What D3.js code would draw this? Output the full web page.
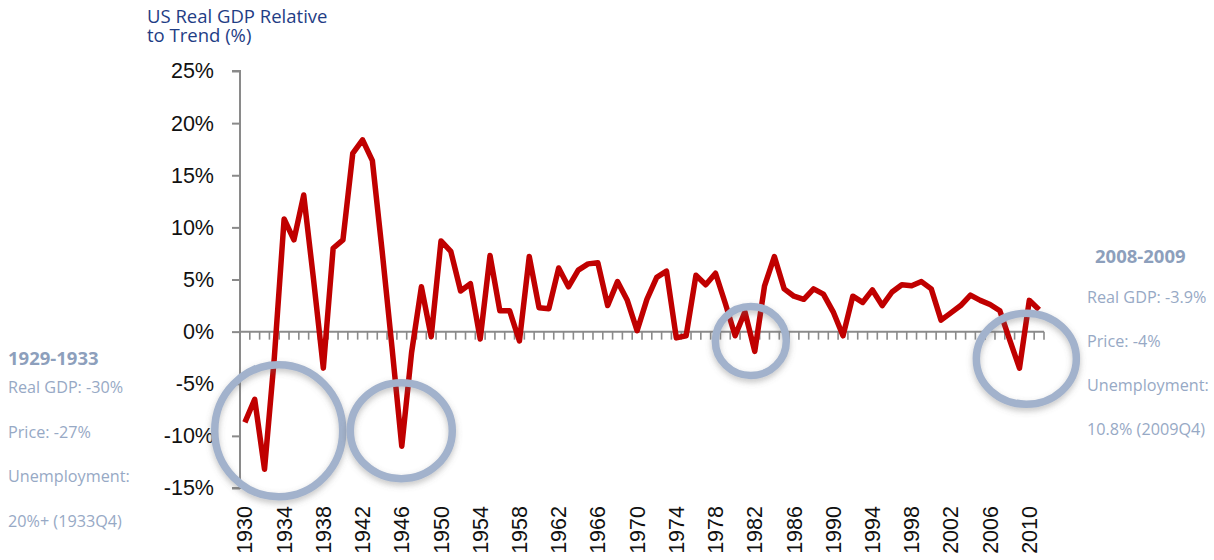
<!DOCTYPE html>
<html>
<head>
<meta charset="utf-8">
<script src="https://cdn.jsdelivr.net/npm/d3@7"></script>
<style>
  html, body { margin: 0; padding: 0; background: #fff; }
  svg { display: block; }
</style>
</head>
<body>
<svg id="chart" width="1214" height="560"></svg>
<script>
// ---- data ----
const years = d3.range(1930, 2012);
const gdpGap = [
  -8.7, -6.5, -13.2, -2.5, 10.8, 8.8, 13.1, 5.0, -3.5, 8.0,
  8.8, 17.1, 18.4, 16.4, 7.7, -1.5, -11.0, -2.0, 4.3, -0.5,
  8.7, 7.7, 3.9, 4.6, -0.7, 7.3, 2.0, 2.0, -0.9, 7.2,
  2.3, 2.2, 6.1, 4.3, 5.9, 6.5, 6.6, 2.5, 4.8, 3.0,
  0.1, 3.1, 5.2, 5.8, -0.6, -0.4, 5.4, 4.5, 5.6, 2.7,
  -0.4, 1.9, -1.9, 4.4, 7.2, 4.1, 3.4, 3.1, 4.1, 3.6,
  1.9, -0.4, 3.4, 2.8, 4.0, 2.5, 3.8, 4.5, 4.4, 4.8,
  4.1, 1.1, 1.8, 2.5, 3.5, 3.0, 2.6, 2.0, -0.8, -3.5,
  3.0, 2.1
];
const yTicks = [-15, -10, -5, 0, 5, 10, 15, 20, 25];
const xLabelYears = years.filter(y => (y - 1930) % 4 === 0);
const titleLines = ["US Real GDP Relative", "to Trend (%)"];
const leftNote = ["1929-1933", "Real GDP: -30%", "Price: -27%", "Unemployment:", "20%+ (1933Q4)"];
const rightNote = ["2008-2009", "Real GDP: -3.9%", "Price: -4%", "Unemployment:", "10.8% (2009Q4)"];
// highlight rings: centre in data units (year, %), radii in px
const rings = [
  { year: 1933.45, value: -9.5, rx: 64, ry: 66 },
  { year: 1945.95, value: -9.5, rx: 51, ry: 48 },
  { year: 1981.6, value: -0.9, rx: 35.5, ry: 34.5 },
  { year: 2009.7, value: -2.6, rx: 50, ry: 45.5 }
];

// ---- layout ----
const svg = d3.select("#chart");
const plotL = 240, plotR = 1044, plotT = 71, plotB = 488;

const x = d3.scaleBand().domain(years).range([plotL, plotR]).padding(0);
const bw = x.bandwidth();
const xc = yr => x(yr) + bw / 2;
const xCont = v => plotL + (v - years[0] + 0.5) * bw;
const y = d3.scaleLinear().domain([-15, 25]).range([plotB, plotT]);

const axisColor = "#8a8a8a";
const valueFont = "'Liberation Sans', Arial, sans-serif";
const noteFont = "'Open Sans', 'Noto Sans', sans-serif";

// defs: ring shadow
const defs = svg.append("defs");
const f = defs.append("filter").attr("id", "ringShadow")
  .attr("x", "-30%").attr("y", "-30%").attr("width", "160%").attr("height", "160%");
f.append("feDropShadow").attr("dx", 0).attr("dy", 3).attr("stdDeviation", 3)
  .attr("flood-color", "#666").attr("flood-opacity", 0.4);

// y axis
const yAxis = d3.axisLeft(y).tickValues(yTicks).tickFormat(d => d + "%")
  .tickSize(8).tickPadding(18);
const gy = svg.append("g").attr("transform", `translate(${plotL},0)`).call(yAxis);
gy.select(".domain").attr("stroke", axisColor).attr("stroke-width", 2)
  .attr("d", `M-8,${y(25)}H0V${y(-15)}H-8`);
gy.selectAll(".tick line").attr("stroke", axisColor).attr("stroke-width", 2);
gy.selectAll(".tick text").attr("fill", "#111").style("font-family", valueFont)
  .style("font-size", "21.5px");

// x axis at zero
const gx = svg.append("g").attr("transform", `translate(0,${y(0)})`);
gx.append("line").attr("x1", plotL).attr("x2", plotR).attr("y1", 0).attr("y2", 0)
  .attr("stroke", axisColor).attr("stroke-width", 2);
gx.selectAll("line.minor").data(years.slice(1).concat([null])).enter().append("line")
  .attr("class", "minor")
  .attr("x1", d => d === null ? plotR : x(d)).attr("x2", d => d === null ? plotR : x(d))
  .attr("y1", 0).attr("y2", 8)
  .attr("stroke", axisColor).attr("stroke-width", 1.6);

// x labels at bottom
svg.append("g").selectAll("text").data(xLabelYears).enter().append("text")
  .attr("transform", d => `translate(${xc(d)},506) rotate(-90)`)
  .attr("text-anchor", "end").attr("dy", "0.35em")
  .style("font-family", valueFont).style("font-size", "21.5px").attr("fill", "#111")
  .text(d => d);

// line
const line = d3.line().x((d, i) => xc(years[i])).y(d => y(d));
svg.append("path").datum(gdpGap).attr("d", line)
  .attr("fill", "none").attr("stroke", "#c00000").attr("stroke-width", 5.5)
  .attr("stroke-linejoin", "round");

// rings
svg.append("g").selectAll("ellipse").data(rings).enter().append("ellipse")
  .attr("cx", d => xCont(d.year)).attr("cy", d => y(d.value))
  .attr("rx", d => d.rx).attr("ry", d => d.ry)
  .attr("fill", "none").attr("stroke", "#a2b2cc").attr("stroke-width", 7.5)
  .attr("filter", "url(#ringShadow)");

// title
svg.append("text").attr("x", 147).attr("y", 22.5)
  .style("font-family", noteFont).style("font-size", "18.5px").attr("fill", "#1f3d85")
  .text(titleLines[0]);
svg.append("text").attr("x", 147).attr("y", 42)
  .style("font-family", noteFont).style("font-size", "18.5px").attr("fill", "#1f3d85")
  .text(titleLines[1]);

// annotation blocks
function note(lines, x0, xHead, yHead, yFirst, gap) {
  const g = svg.append("g").style("font-family", noteFont);
  g.append("text").attr("x", xHead).attr("y", yHead)
    .style("font-size", "18.5px").style("font-weight", "bold").attr("fill", "#8d9fbc")
    .text(lines[0]);
  g.selectAll("text.l").data(lines.slice(1)).enter().append("text").attr("class", "l")
    .attr("x", x0).attr("y", (d, i) => yFirst + i * gap)
    .style("font-size", "16.2px").attr("fill", "#97a9c5").text(d => d);
}
note(leftNote, 8, 8, 365, 393, 44.7);
note(rightNote, 1087, 1095, 263, 303, 44);
</script>
</body>
</html>
